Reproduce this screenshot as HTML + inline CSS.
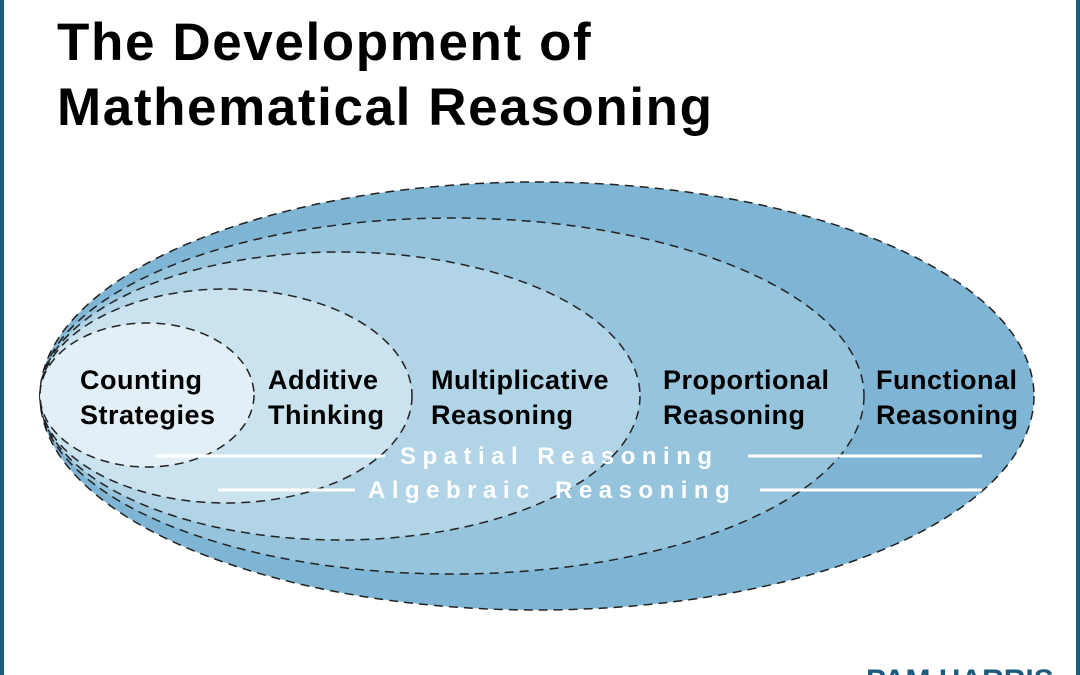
<!DOCTYPE html>
<html><head><style>
body{margin:0;width:1080px;height:675px;overflow:hidden;background:#fff;position:relative;font-family:"Liberation Sans",sans-serif}
.b{position:absolute;top:0;bottom:0;width:4px;background:#1c5a7e}
h1{position:absolute;left:57px;top:10px;margin:0;font-size:53px;line-height:65px;font-weight:bold;color:#000;letter-spacing:1.6px}
</style></head><body>
<div class="b" style="left:0"></div><div class="b" style="right:0"></div>
<h1>The Development of<br>Mathematical Reasoning</h1>
<svg width="1080" height="675" style="position:absolute;left:0;top:0">
<g stroke="#222" stroke-width="1.5" stroke-dasharray="9,6">
<ellipse cx="537" cy="396" rx="497" ry="214" fill="#7fb5d4"/>
<ellipse cx="452" cy="396" rx="412" ry="178" fill="#97c4dd"/>
<ellipse cx="340" cy="396" rx="300" ry="144" fill="#b1d4e7"/>
<ellipse cx="226" cy="396" rx="186" ry="107" fill="#cbe2ef"/>
<ellipse cx="147" cy="395" rx="107" ry="72" fill="#e3eff6"/>
</g>
<g font-family="Liberation Sans,sans-serif" font-weight="bold" font-size="27" fill="#000" letter-spacing="0.5">
<text x="80" y="389">Counting</text><text x="80" y="424">Strategies</text>
<text x="268" y="389">Additive</text><text x="268" y="424">Thinking</text>
<text x="431" y="389">Multiplicative</text><text x="431" y="424">Reasoning</text>
<text x="663" y="389">Proportional</text><text x="663" y="424">Reasoning</text>
<text x="876" y="389">Functional</text><text x="876" y="424">Reasoning</text>
</g>
<g stroke="#fff" stroke-width="3">
<line x1="155" y1="456" x2="385" y2="456"/><line x1="748" y1="456" x2="982" y2="456"/>
<line x1="218" y1="490" x2="355" y2="490"/><line x1="760" y1="490" x2="982" y2="490"/>
</g>
<g font-family="Liberation Sans,sans-serif" font-weight="bold" font-size="24" fill="#fff" letter-spacing="6.5">
<text x="400" y="464">Spatial Reasoning</text>
<text x="368" y="498" word-spacing="6">Algebraic Reasoning</text>
</g>
<text x="866" y="690" font-family="Liberation Sans,sans-serif" font-weight="bold" font-size="30" fill="#1c5a7e">PAM HARRIS</text>
</svg>
</body></html>
